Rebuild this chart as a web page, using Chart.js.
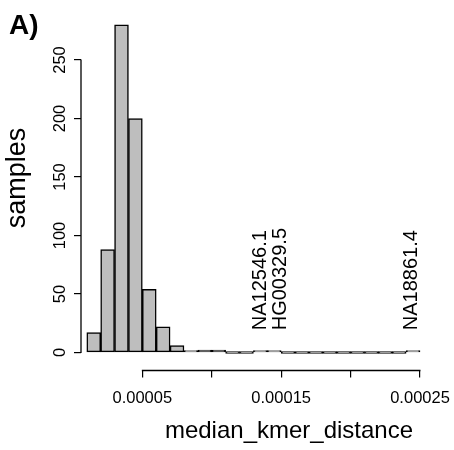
<!DOCTYPE html>
<html><head><meta charset="utf-8">
<script src="https://cdn.jsdelivr.net/npm/chart.js@4/dist/chart.umd.min.js"></script>
<style>html,body{margin:0;padding:0;background:#fff;}#wrap{width:454px;height:450px;}</style>
</head><body><div id="wrap"><canvas id="c" width="454" height="450"></canvas></div>
<script>
// ---- data ----
const binEdges = [0.00001,0.00002,0.00003,0.00004,0.00005,0.00006,0.00007,0.00008,0.00009,0.00010,
                  0.00011,0.00012,0.00013,0.00014,0.00015,0.00016,0.00017,0.00018,0.00019,0.00020,
                  0.00021,0.00022,0.00023,0.00024,0.00025];
const counts = [17,88,280,200,54,22,6,1,2,2,0,0,1,1,0,0,0,0,0,0,0,0,0,1];
const xTickValues = [0.00005,0.00010,0.00015,0.00020,0.00025];
const xTickLabels = ['0.00005','','0.00015','','0.00025'];
const yTickValues = [0,50,100,150,200,250];
const yTickLabels = ['0','50','100','150','200','250'];
const sampleNames = ['NA12546.1','HG00329.5','NA18861.4'];
const sampleValues = [0.0001353,0.0001492,0.000244];
const sampleLabelY = 19;
const panelLabel = 'A)';
const xTitle = 'median_kmer_distance';
const yTitle = 'samples';

const FONT = '"Liberation Sans", Arial, Helvetica, sans-serif';

const points = counts.map((c, i) => ({x: (binEdges[i] + binEdges[i + 1]) / 2, y: c}));

const decor = {
  id: 'decor',
  afterDraw(chart) {
    const {ctx, chartArea, scales: {x, y}} = chart;
    ctx.save();
    ctx.strokeStyle = '#000';
    ctx.lineWidth = 1.3;
    // y axis line (only across tick range, R style)
    const y0 = y.getPixelForValue(yTickValues[0]);
    const y1 = y.getPixelForValue(yTickValues[yTickValues.length - 1]);
    ctx.beginPath();
    ctx.moveTo(chartArea.left, y0 + 0.5);
    ctx.lineTo(chartArea.left, y1 - 0.5);
    ctx.stroke();
    // x axis line
    const x0 = x.getPixelForValue(xTickValues[0]);
    const x1 = x.getPixelForValue(xTickValues[xTickValues.length - 1]);
    ctx.beginPath();
    ctx.moveTo(x0 - 0.5, chartArea.bottom);
    ctx.lineTo(x1 + 0.5, chartArea.bottom);
    ctx.stroke();

    ctx.fillStyle = '#000';
    // panel label
    ctx.font = 'bold 28px ' + FONT;
    ctx.textAlign = 'left';
    ctx.textBaseline = 'alphabetic';
    ctx.fillText(panelLabel, 9, 34);
    // x title
    ctx.font = '24px ' + FONT;
    ctx.textAlign = 'center';
    ctx.fillText(xTitle, 289, 438);
    // y title
    ctx.save();
    ctx.translate(25, 178);
    ctx.rotate(-Math.PI / 2);
    ctx.font = '27px ' + FONT;
    ctx.textAlign = 'center';
    ctx.textBaseline = 'alphabetic';
    ctx.fillText(yTitle, 0, 0);
    ctx.restore();
    // sample labels
    ctx.font = '20px ' + FONT;
    sampleNames.forEach((name, i) => {
      ctx.save();
      ctx.translate(x.getPixelForValue(sampleValues[i]), y.getPixelForValue(sampleLabelY));
      ctx.rotate(-Math.PI / 2);
      ctx.textAlign = 'left';
      ctx.textBaseline = 'middle';
      ctx.fillText(name, 0, 0);
      ctx.restore();
    });
    ctx.restore();
  }
};

new Chart(document.getElementById('c'), {
  type: 'bar',
  data: {
    datasets: [{
      data: points,
      backgroundColor: '#bebebe',
      borderColor: '#000',
      borderWidth: 1.5,
      borderSkipped: false,
      barPercentage: 1,
      categoryPercentage: 1,
      minBarLength: 2
    }]
  },
  options: {
    responsive: false,
    animation: false,
    devicePixelRatio: 1,
    layout: {autoPadding: false, padding: {top: 13.2, left: 0, right: 20.1, bottom: 0}},
    plugins: {legend: {display: false}, tooltip: {enabled: false}, title: {display: false}},
    scales: {
      x: {
        type: 'linear',
        min: 0.00000583,
        max: 0.00026,
        offset: false,
        border: {display: false},
        grid: {display: true, offset: false, drawOnChartArea: false, drawTicks: true, tickLength: 7, color: '#000', lineWidth: 1.2},
        ticks: {
          autoSkip: false, maxRotation: 0, minRotation: 0, padding: 11,
          color: '#000', font: {family: FONT, size: 16.5},
          callback: (v, i) => xTickLabels[i]
        },
        afterBuildTicks: s => { s.ticks = xTickValues.map(v => ({value: v})); },
        afterFit: s => { s.height = 79.5; s.paddingLeft = 0; s.paddingRight = 0; s.paddingTop = 0; s.paddingBottom = 0; }
      },
      y: {
        type: 'linear',
        min: -15.4,
        max: 290,
        border: {display: false},
        grid: {display: true, drawOnChartArea: false, drawTicks: true, tickLength: 7, color: '#000', lineWidth: 1.2},
        ticks: {
          autoSkip: false, minRotation: 90, maxRotation: 90, crossAlign: 'center', padding: 0,
          color: '#000', font: {family: FONT, size: 16.5},
          callback: (v, i) => yTickLabels[i]
        },
        afterBuildTicks: s => { s.ticks = yTickValues.map(v => ({value: v})); },
        afterFit: s => { s.width = 81; s.paddingLeft = 0; s.paddingRight = 0; s.paddingTop = 0; s.paddingBottom = 0; }
      }
    }
  },
  plugins: [decor]
});
</script>
</body></html>
